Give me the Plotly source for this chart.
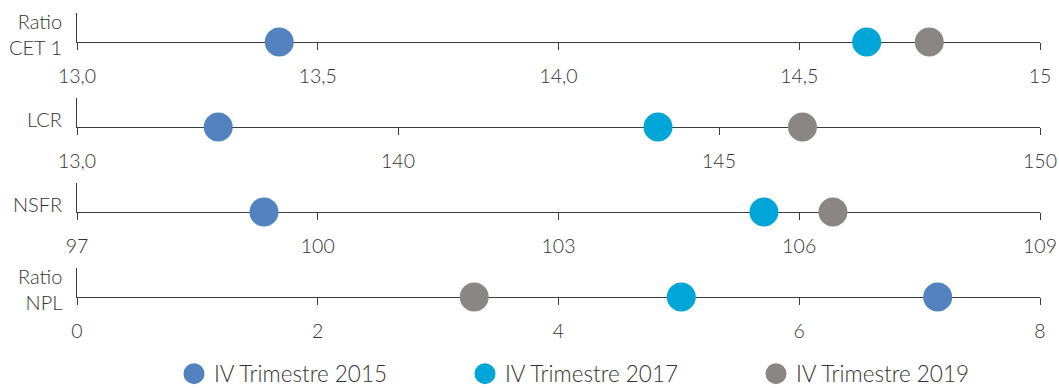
import plotly.graph_objects as go

# ---- data ----
rows = ["Ratio<br>CET 1", "LCR", "NSFR", "Ratio<br>NPL"]
series_names = ["IV Trimestre 2015", "IV Trimestre 2017", "IV Trimestre 2019"]
colors = ["#5282C0", "#00A6D8", "#8A8685"]

cet1 = [13.42, 14.64, 14.77]
lcr = [137.2, 144.05, 146.3]
nsfr = [99.33, 105.56, 106.42]
npl = [7.15, 5.02, 3.30]
values = [cet1, lcr, nsfr, npl]

ranges = [[13.0, 15.0], [135, 150], [97, 109], [0, 8]]
tickvals = [[13.0, 13.5, 14.0, 14.5, 15.0], [135, 140, 145, 150],
            [97, 100, 103, 106, 109], [0, 2, 4, 6, 8]]
ticktext = [["13,0", "13,5", "14,0", "14,5", "15"], ["13,0", "140", "145", "150"],
            ["97", "100", "103", "106", "109"], ["0", "2", "4", "6", "8"]]

# ---- layout geometry (pixels) ----
W, H = 1059, 388
x0, x1 = 77, 1040
line_y = [42, 127, 212, 297]
row_h = 29
FONT = "Lato"
TXT = "#333333"
AX = "#3c3c3c"

fig = go.Figure()
layout = dict(
    width=W, height=H,
    margin=dict(l=0, r=0, t=0, b=0, autoexpand=False),
    paper_bgcolor="white", plot_bgcolor="white",
    font=dict(family=FONT, color=TXT, size=19, weight=300),
    showlegend=True,
    legend=dict(orientation="h", x=174 / W, xanchor="left", y=(H - 374) / H, yanchor="middle",
                font=dict(size=22.5, color=TXT, weight=300), entrywidth=246, entrywidthmode="pixels",
                itemsizing="trace", bgcolor="rgba(0,0,0,0)", tracegroupgap=0),
)

annotations = []
for i in range(4):
    suf = "" if i == 0 else str(i + 1)
    ydom = [(H - line_y[i]) / H, (H - line_y[i] + row_h) / H]
    layout["xaxis" + suf] = dict(
        domain=[x0 / W, x1 / W], range=ranges[i], anchor="y" + suf,
        showline=True, linecolor=AX, linewidth=1.4,
        ticks="outside", ticklen=7, tickwidth=1.4, tickcolor=AX,
        tickvals=tickvals[i], ticktext=ticktext[i],
        showgrid=False, zeroline=False, layer="below traces",
        tickfont=dict(size=19.5, color=TXT, weight=300), ticklabelstandoff=9,
        fixedrange=True, automargin=False,
    )
    layout["yaxis" + suf] = dict(
        domain=ydom, range=[0, 1], anchor="x" + suf,
        showline=True, linecolor=AX, linewidth=1.4,
        showticklabels=False, ticks="", showgrid=False, zeroline=False,
        layer="below traces", fixedrange=True, automargin=False,
    )
    annotations.append(dict(
        text=rows[i], xref="paper", yref="paper", x=64 / W, xanchor="right",
        y=(H - line_y[i] + 8) / H, yanchor="middle", showarrow=False,
        font=dict(size=20, color=TXT, weight=300), align="right",
    ))
    for j in range(3):
        fig.add_trace(go.Scatter(
            x=[values[i][j]], y=[0], mode="markers",
            marker=dict(size=24, color=colors[j], line=dict(width=5, color=colors[j])),
            name=series_names[j], legendgroup=series_names[j],
            showlegend=(i == 0), cliponaxis=False,
            xaxis="x" + suf, yaxis="y" + suf,
        ))

layout["annotations"] = annotations
fig.update_layout(**layout)
fig.write_html("out.html")
